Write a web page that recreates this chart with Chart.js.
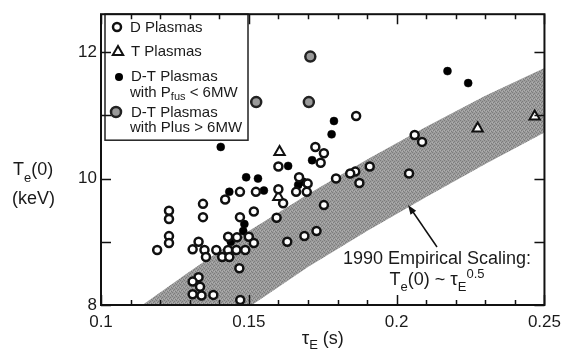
<!DOCTYPE html>
<html><head><meta charset="utf-8">
<script src="https://cdn.jsdelivr.net/npm/chart.js@4/dist/chart.umd.min.js"></script>
<style>html,body{margin:0;padding:0;background:#fff;}#wrap{width:568px;height:360px;}</style>
</head><body><div id="wrap"><canvas id="c" width="568" height="360"></canvas></div>
<script>
// ---- data ----
const dTau = [0.123,0.123,0.123,0.123,0.119,0.1345,0.1345,0.133,0.131,0.135,0.1355,0.139,0.141,0.143,0.1434,0.143,0.146,0.1458,0.1488,0.150,0.1517,0.147,0.1517,0.142,0.147,0.1524,0.1468,0.133,0.131,0.1335,0.131,0.134,0.138,0.1471,0.160,0.160,0.1616,0.1594,0.163,0.1688,0.1729,0.1754,0.167,0.166,0.1696,0.1699,0.1725,0.1754,0.1743,0.1795,0.1863,0.1909,0.186,0.1843,0.1874,0.2042,0.2061,0.2086];
const dTe  = [9.49,9.36,9.09,8.98,8.87,9.60,9.39,9.00,8.88,8.87,8.76,8.87,8.76,8.87,8.76,9.08,9.07,8.87,8.87,9.08,8.98,9.39,9.48,9.67,9.79,9.79,8.58,8.44,8.37,8.29,8.17,8.15,8.16,8.08,9.83,10.19,9.61,9.38,9.00,9.09,9.17,9.58,10.02,9.79,9.79,9.92,10.50,10.40,10.25,10.00,10.99,10.19,10.11,10.08,9.93,10.08,10.69,10.58];
const tTau = [0.1604,0.160,0.2274,0.2467];
const tTe  = [10.42,9.71,10.79,10.98];
const dtLowTau = [0.1405,0.1491,0.1531,0.1434,0.1551,0.1633,0.1714,0.1788,0.178,0.2172,0.2242,0.1485,0.1481,0.1439,0.1667,0.1684];
const dtLowTe  = [10.50,10.02,10.00,9.79,9.81,10.20,10.29,10.91,10.70,11.70,11.51,9.28,9.17,9.00,9.90,9.95];
const dtHighTau = [0.1708,0.1525,0.1703];
const dtHighTe  = [11.93,11.21,11.21];
const bandUpperTau = [0.1125,0.13,0.15,0.17,0.19,0.21,0.23,0.25];
const bandUpperTe  = [7.95,8.53,9.17,9.75,10.30,10.82,11.31,11.75];
const bandLowerTau = [0.25,0.23,0.21,0.19,0.17,0.1495];
const bandLowerTe  = [10.73,10.23,9.71,9.17,8.60,7.95];
const xMajorTicks = [0.1,0.15,0.2,0.25];
const xTickLabels = ['0.1','0.15','0.2','0.25'];
const xMinorTicks = [0.11,0.12,0.13,0.14,0.16,0.17,0.18,0.19,0.21,0.22,0.23,0.24];
const yMajorTicks = [8,10,12];
const yTickLabels = ['8','10','12'];
const yMinorTicks = [9,11];

const FONT = '"Liberation Sans", Arial, Helvetica, sans-serif';
const INK = '#1a1a1a';
function pts(a,b){return a.map((v,i)=>({x:v,y:b[i]}));}
const bandPts = pts(bandUpperTau,bandUpperTe).concat(pts(bandLowerTau,bandLowerTe));

const canvas = document.getElementById('c');
const pc = document.createElement('canvas'); pc.width=4; pc.height=4;
const pctx = pc.getContext('2d');
pctx.fillStyle='#9c9c9c'; pctx.fillRect(0,0,4,4);
pctx.fillStyle='#7c7c7c'; pctx.fillRect(0,0,1,1); pctx.fillRect(2,1,1,1); pctx.fillRect(1,2,1,1); pctx.fillRect(3,3,1,1);
pctx.fillStyle='#b0b0b0'; pctx.fillRect(2,3,1,1); pctx.fillRect(0,2,1,1);
const bandPattern = canvas.getContext('2d').createPattern(pc,'repeat');

function rich(ctx,x,y,parts){
  let cx=x;
  for(const [t,size,dy] of parts){ctx.font=size+'px '+FONT;ctx.fillText(t,cx,y+dy);cx+=ctx.measureText(t).width;}
  return cx;
}
function richWidth(ctx,parts){let w=0;for(const [t,size] of parts){ctx.font=size+'px '+FONT;w+=ctx.measureText(t).width;}return w;}

function openCircle(ctx,x,y){ctx.beginPath();ctx.arc(x,y,4,0,Math.PI*2);ctx.fillStyle='#fff';ctx.fill();ctx.lineWidth=2.5;ctx.strokeStyle='#111';ctx.stroke();}
function triangle(ctx,x,y){const r=6;ctx.beginPath();ctx.moveTo(x,y-r);ctx.lineTo(x+r*0.866,y+r/2);ctx.lineTo(x-r*0.866,y+r/2);ctx.closePath();ctx.fillStyle='#fff';ctx.fill();ctx.lineWidth=2;ctx.strokeStyle='#111';ctx.stroke();}
function blackDot(ctx,x,y){ctx.beginPath();ctx.arc(x,y,4,0,Math.PI*2);ctx.fillStyle='#000';ctx.fill();}
function greyCircle(ctx,x,y){ctx.beginPath();ctx.arc(x,y,5,0,Math.PI*2);ctx.fillStyle='#9a9a9a';ctx.fill();ctx.lineWidth=2.5;ctx.strokeStyle='#222';ctx.stroke();}

const decor = {
  id:'decor',
  afterDraw(chart){
    const ctx=chart.ctx, a=chart.chartArea, xs=chart.scales.x, ys=chart.scales.y;
    ctx.save();
    ctx.fillStyle=INK; ctx.textBaseline='alphabetic'; ctx.textAlign='left';
    // legend
    ctx.fillStyle='#fff'; ctx.fillRect(105,a.top,143,126);
    ctx.lineWidth=1.5; ctx.strokeStyle='#222'; ctx.strokeRect(105,a.top,143,126);
    openCircle(ctx,117,27); triangle(ctx,118,52); blackDot(ctx,119,77); greyCircle(ctx,116,112);
    ctx.fillStyle=INK; ctx.textBaseline='middle';
    rich(ctx,130,28,[['D Plasmas',15,0]]);
    rich(ctx,131,52,[['T Plasmas',15,0]]);
    rich(ctx,131,77,[['D-T Plasmas',15,0]]);
    rich(ctx,130,93,[['with P',15,0],['fus',11,4],[' < 6MW',15,0]]);
    rich(ctx,131,113,[['D-T Plasmas',15,0]]);
    rich(ctx,130,128,[['with Plus > 6MW',15,0]]);
    ctx.textBaseline='alphabetic';
    // axis titles
    rich(ctx,13,175,[['T',18,0],['e',13,7],['(0)',18,0]]);
    rich(ctx,12,204,[['(keV)',18,0]]);
    const xt=[['\u03C4',19,0],['E',13,5],[' (s)',18,0]];
    rich(ctx,(a.left+a.right)/2-richWidth(ctx,xt)/2,344,xt);
    // annotation
    ctx.font='18px '+FONT; ctx.textAlign='center';
    ctx.fillText('1990 Empirical Scaling:',437,264);
    ctx.textAlign='left';
    const an=[['T',18,0],['e',13,6],['(0) ~ ',18,0],['\u03C4',19,0],['E',13,6],['0.5',13,-7]];
    rich(ctx,437-richWidth(ctx,an)/2,285,an);
    // arrow
    ctx.strokeStyle='#111'; ctx.lineWidth=1.5;
    ctx.beginPath(); ctx.moveTo(437,247); ctx.lineTo(411,209); ctx.stroke();
    const ang=Math.atan2(205-247,408-437);
    ctx.beginPath(); ctx.moveTo(408,205);
    ctx.lineTo(408-10*Math.cos(ang-0.35),205-10*Math.sin(ang-0.35));
    ctx.lineTo(408-10*Math.cos(ang+0.35),205-10*Math.sin(ang+0.35));
    ctx.closePath(); ctx.fillStyle='#111'; ctx.fill();
    // frame
    ctx.strokeStyle='#111'; ctx.lineWidth=2;
    ctx.strokeRect(a.left,a.top,a.right-a.left,a.bottom-a.top);
    ctx.lineWidth=1.5; ctx.beginPath();
    const vt=(v,len)=>{const px=Math.round(xs.getPixelForValue(v))+0.5;ctx.moveTo(px,a.bottom);ctx.lineTo(px,a.bottom-len);ctx.moveTo(px,a.top);ctx.lineTo(px,a.top+len);};
    const ht=(v,len)=>{const py=Math.round(ys.getPixelForValue(v))+0.5;ctx.moveTo(a.left,py);ctx.lineTo(a.left+len,py);ctx.moveTo(a.right,py);ctx.lineTo(a.right-len,py);};
    xMajorTicks.forEach(v=>vt(v,10)); xMinorTicks.forEach(v=>vt(v,5));
    yMajorTicks.forEach(v=>ht(v,10)); yMinorTicks.forEach(v=>ht(v,10));
    ctx.stroke();
    ctx.restore();
  }
};

new Chart(canvas,{
  type:'scatter',
  data:{datasets:[
    {label:'D Plasmas',data:pts(dTau,dTe),pointStyle:'circle',pointRadius:4,borderWidth:2.5,borderColor:'#111',backgroundColor:'#fff',order:0},
    {label:'T Plasmas',data:pts(tTau,tTe),pointStyle:'triangle',pointRadius:6,borderWidth:2,borderColor:'#111',backgroundColor:'#fff',order:1},
    {label:'D-T Plasmas with Pfus < 6MW',data:pts(dtLowTau,dtLowTe),pointStyle:'circle',pointRadius:4,borderWidth:0.5,borderColor:'#000',backgroundColor:'#000',order:2},
    {label:'D-T Plasmas with Pfus > 6MW',data:pts(dtHighTau,dtHighTe),pointStyle:'circle',pointRadius:5,borderWidth:2.5,borderColor:'#222',backgroundColor:'#9a9a9a',order:3},
    {label:'1990 Empirical Scaling',data:bandPts,showLine:true,fill:'shape',tension:0,pointRadius:0,borderWidth:0,borderColor:'rgba(0,0,0,0)',backgroundColor:bandPattern,order:10}
  ]},
  options:{
    responsive:false,animation:false,events:[],
    layout:{padding:{left:0,right:15,top:13,bottom:0}},
    plugins:{legend:{display:false},tooltip:{enabled:false}},
    scales:{
      x:{type:'linear',min:0.1,max:0.25,
        grid:{display:false,drawTicks:false},border:{display:false},
        afterBuildTicks:s=>{s.ticks=xMajorTicks.map(v=>({value:v}));},
        ticks:{font:{family:FONT,size:17},color:INK,padding:7,maxRotation:0,autoSkip:false,callback:(v,i)=>xTickLabels[i]},
        afterFit:s=>{s.height=55;}},
      y:{type:'linear',min:8,max:12.6,
        grid:{display:false,drawTicks:false},border:{display:false},
        afterBuildTicks:s=>{s.ticks=yMajorTicks.map(v=>({value:v}));},
        ticks:{font:{family:FONT,size:17},color:INK,padding:4,autoSkip:false,callback:(v,i)=>yTickLabels[i]},
        afterFit:s=>{s.width=101;}}
    }
  },
  plugins:[decor]
});
</script></body></html>
